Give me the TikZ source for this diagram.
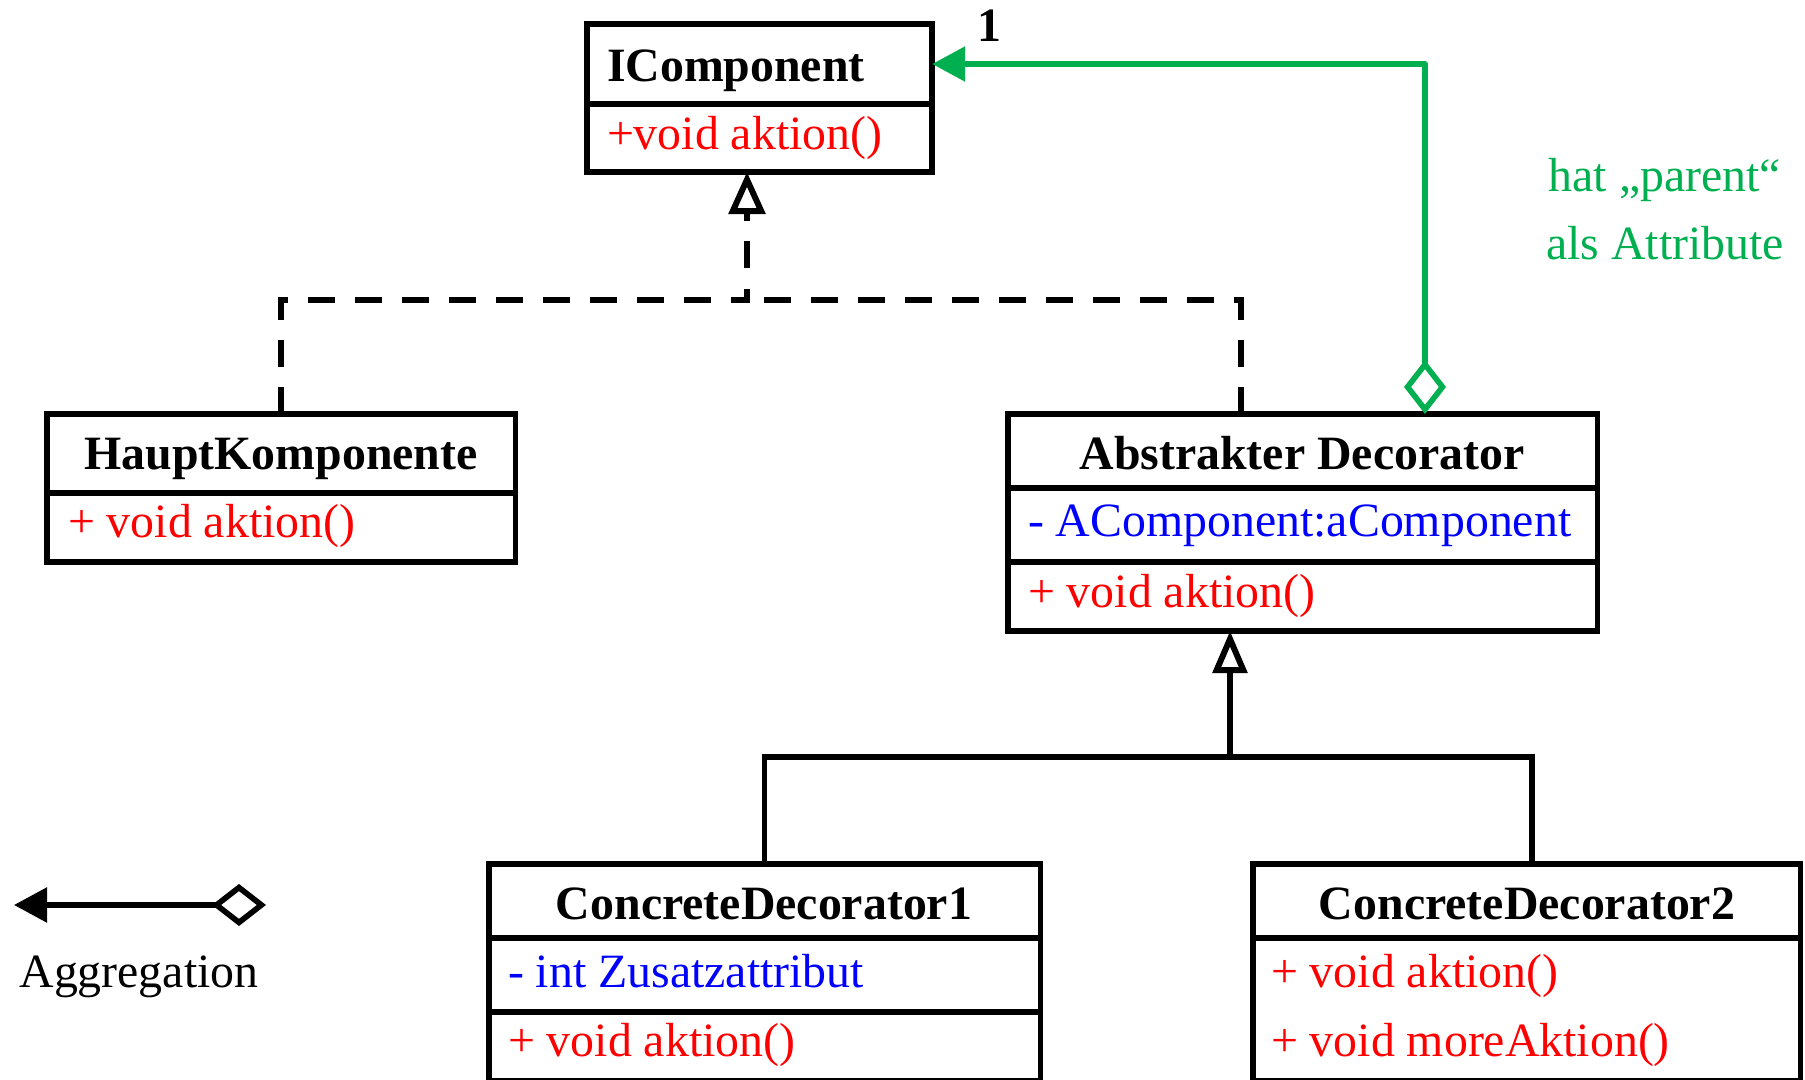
\documentclass[tikz,border=0pt]{standalone}
\usepackage{fontspec}
\setmainfont{Liberation Serif}
\usetikzlibrary{arrows.meta}

\definecolor{umlred}{RGB}{255,0,0}
\definecolor{umlblue}{RGB}{0,0,255}
\definecolor{umlgreen}{RGB}{0,176,80}

\tikzset{
  comp/.style={draw, line width=1.55pt, rectangle, anchor=north west,
               inner sep=0pt, outer sep=0pt},
  txt/.style={inner sep=0pt, outer sep=0pt,
              font=\fontsize{13.6pt}{16pt}\selectfont},
  ttl/.style={txt, font=\fontsize{13.6pt}{16pt}\selectfont\bfseries, anchor=base},
  meth/.style={txt, text=umlred, anchor=base west},
  attr/.style={txt, text=umlblue, anchor=base west},
  realize/.style={line width=1.55pt, dash pattern=on 0.27cm off 0.20cm,
                  -{Triangle[open, length=0.42cm, width=0.36cm, line width=1.7pt]}},
  inherit/.style={line width=1.55pt,
                  -{Triangle[open, length=0.42cm, width=0.34cm, line width=1.7pt]}},
  plainline/.style={line width=1.55pt},
  aggreg/.style={line width=1.6pt, line join=round,
                 {Diamond[open, length=0.54cm, width=0.42cm]}-{Triangle[length=0.33cm, width=0.34cm]}}
}

\begin{document}
\begin{tikzpicture}[x=0.01cm, y=-0.01cm]
\useasboundingbox (0,0) rectangle (1805,1080);

% IComponent
\node[comp, minimum width=3.45cm, minimum height=0.80cm] (ich) at (587,24) {};
\node[comp, minimum width=3.45cm, minimum height=0.68cm] (icb) at (587,104) {};
\node[txt, font=\fontsize{13.6pt}{16pt}\selectfont\bfseries, anchor=base west] (ict) at (607,82) {IComponent};
\node[meth] (icm) at (607,150) {+void aktion()};

% HauptKomponente
\node[comp, minimum width=4.68cm, minimum height=0.79cm] (hkh) at (47,414) {};
\node[comp, minimum width=4.68cm, minimum height=0.69cm] (hkb) at (47,493) {};
\node[ttl] (hkt) at (281,470) {HauptKomponente};
\node[meth] (hkm) at (68,538) {+ void aktion()};

% Abstrakter Decorator
\node[comp, minimum width=5.89cm, minimum height=0.74cm] (adh) at (1008,414) {};
\node[comp, minimum width=5.89cm, minimum height=0.74cm] (ada) at (1008,488) {};
\node[comp, minimum width=5.89cm, minimum height=0.69cm] (adm) at (1008,562) {};
\node[ttl] (adt) at (1302,470) {Abstrakter Decorator};
\node[attr] (ad1) at (1028,537) {- AComponent:aComponent};
\node[meth] (ad2) at (1028,608) {+ void aktion()};

% ConcreteDecorator1
\node[comp, minimum width=5.51cm, minimum height=0.74cm] (c1h) at (489,864) {};
\node[comp, minimum width=5.51cm, minimum height=0.74cm] (c1a) at (489,938) {};
\node[comp, minimum width=5.51cm, minimum height=0.69cm] (c1m) at (489,1012) {};
\node[ttl] (c1t) at (764,920) {ConcreteDecorator1};
\node[attr] (c1x) at (508,988) {- int Zusatzattribut};
\node[meth] (c1y) at (508,1057) {+ void aktion()};

% ConcreteDecorator2
\node[comp, minimum width=5.47cm, minimum height=0.74cm] (c2h) at (1253,864) {};
\node[comp, minimum width=5.47cm, minimum height=1.43cm] (c2m) at (1253,938) {};
\node[ttl] (c2t) at (1527,920) {ConcreteDecorator2};
\node[meth] (c2x) at (1271,988) {+ void aktion()};
\node[meth] (c2y) at (1271,1057) {+ void moreAktion()};

% realization of IComponent (dashed)
\coordinate (rj) at (747,300);
\coordinate (adr) at (1241,414);
\draw[realize] (hkh.north) |- (rj) -- (icb.south -| rj);
\draw[plainline, dash pattern=on 0.27cm off 0.20cm] (adr) |- (rj);

% inheritance from Abstrakter Decorator
\coordinate (gj) at (1230,757);
\coordinate (c2r) at (1532,864);
\draw[plainline] (c1h.north) |- (gj);
\draw[plainline] (c2r) |- (gj);
\draw[inherit] (gj) -- (adm.south -| gj);

% aggregation of the parent component
\coordinate (agg) at (1425,414);
\draw[aggreg, umlgreen] (agg) |- (ich.east);
\node[ttl, text=black] (mult) at (989,42) {1};
\node[txt, text=umlgreen, align=center, anchor=base,
      font=\fontsize{13.6pt}{0.68cm}\selectfont] (note) at (1665,260)
      {hat „parent“\\als Attribute};

% legend
\coordinate (lgA) at (14,905);
\coordinate (lgB) at (266,905);
\draw[aggreg, black] (lgB) -- (lgA);
\node[txt, anchor=base] (lgt) at (139,988) {Aggregation};
\end{tikzpicture}
\end{document}
